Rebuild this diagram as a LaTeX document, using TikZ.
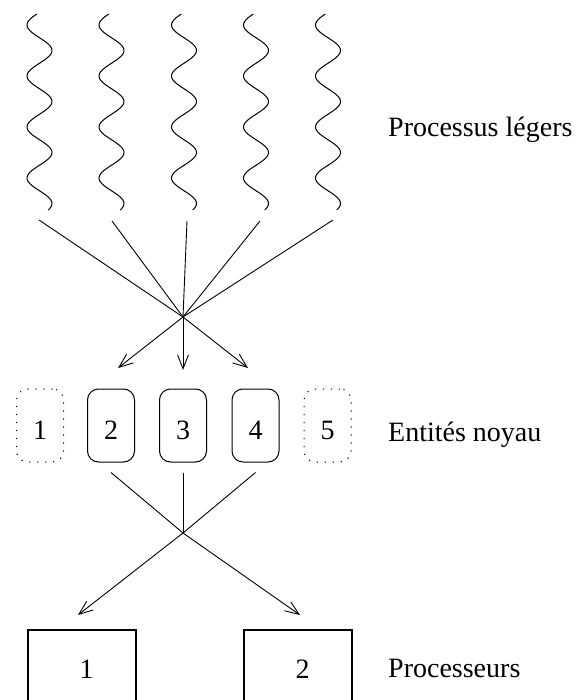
\documentclass[tikz,border=0pt]{standalone}
\usepackage{fontspec}
\setmainfont{Liberation Serif}
\usetikzlibrary{arrows.meta}
\begin{document}
\begin{tikzpicture}[x=1pt,y=-1pt,
  wave/.style={line width=1pt},
  conn/.style={line width=0.9pt},
  arr/.style={line width=0.9pt,-{Straight Barb[length=14pt,width=11pt,line width=0.9pt]}},
  txt/.style={font=\fontsize{28}{30}\selectfont},
  kbox/.style={draw,line width=1pt,rounded corners=11pt,minimum width=47pt,minimum height=73pt,inner sep=0pt,text height=27pt,text depth=0pt,txt},
  kdot/.style={kbox,dash pattern=on 1.2pt off 6.8pt},
  pbox/.style={draw,line width=2pt,minimum width=108pt,minimum height=78pt,inner sep=0pt,txt},
  lab/.style={anchor=base west,inner sep=0pt,txt}]
\clip (0,0) rectangle (576,700);
% light-weight processes (wavy lines)
\foreach \c in {39.5,111.5,184,256,328}{
  \draw[wave] plot[domain=14:210,samples=150,variable=\t] ({\c-12.5*cos(7.0588*(\t-25))},\t);
}
% wave ends / line starts
\coordinate (w1) at (39,220);
\coordinate (w2) at (112,221);
\coordinate (w3) at (187,221);
\coordinate (w4) at (260,221);
\coordinate (w5) at (333,220);
\coordinate (x1) at (183,317);
\coordinate (t2) at (118,368);
\coordinate (t3) at (183,370);
\coordinate (t4) at (248,368);
\foreach \i in {1,...,5}{\draw[conn] (w\i) -- (x1);}
\foreach \i in {2,3,4}{\draw[arr] (x1) -- (t\i);}
% kernel entities
\node[kdot] (k1) at (40,425.5) {1};
\node[kbox] (k2) at (111,425.5) {2};
\node[kbox] (k3) at (183,425.5) {3};
\node[kbox] (k4) at (255.5,425.5) {4};
\node[kdot] (k5) at (327.5,425.5) {5};
% lower connectors
\coordinate (x2) at (183,533);
\coordinate (u1) at (78,615);
\coordinate (u2) at (300,615);
\path (k2.south) ++(0,10) coordinate (s2);
\path (k3.south) ++(0,10) coordinate (s3);
\path (k4.south) ++(0,10) coordinate (s4);
\foreach \i in {2,3,4}{\draw[conn] (s\i) -- (x2);}
\draw[arr] (x2) -- (u1);
\draw[arr] (x2) -- (u2);
% processors (cut by the lower edge)
\node[pbox] (p1) at (81.5,669) {\hspace{10pt}1};
\node[pbox] (p2) at (297.5,669) {\hspace{10pt}2};
% labels
\node[lab] (l1) at (388,136.5) {Processus légers};
\node[lab] (l2) at (388,441.5) {Entités noyau};
\node[lab] (l3) at (388,677) {Processeurs};
\end{tikzpicture}
\end{document}
